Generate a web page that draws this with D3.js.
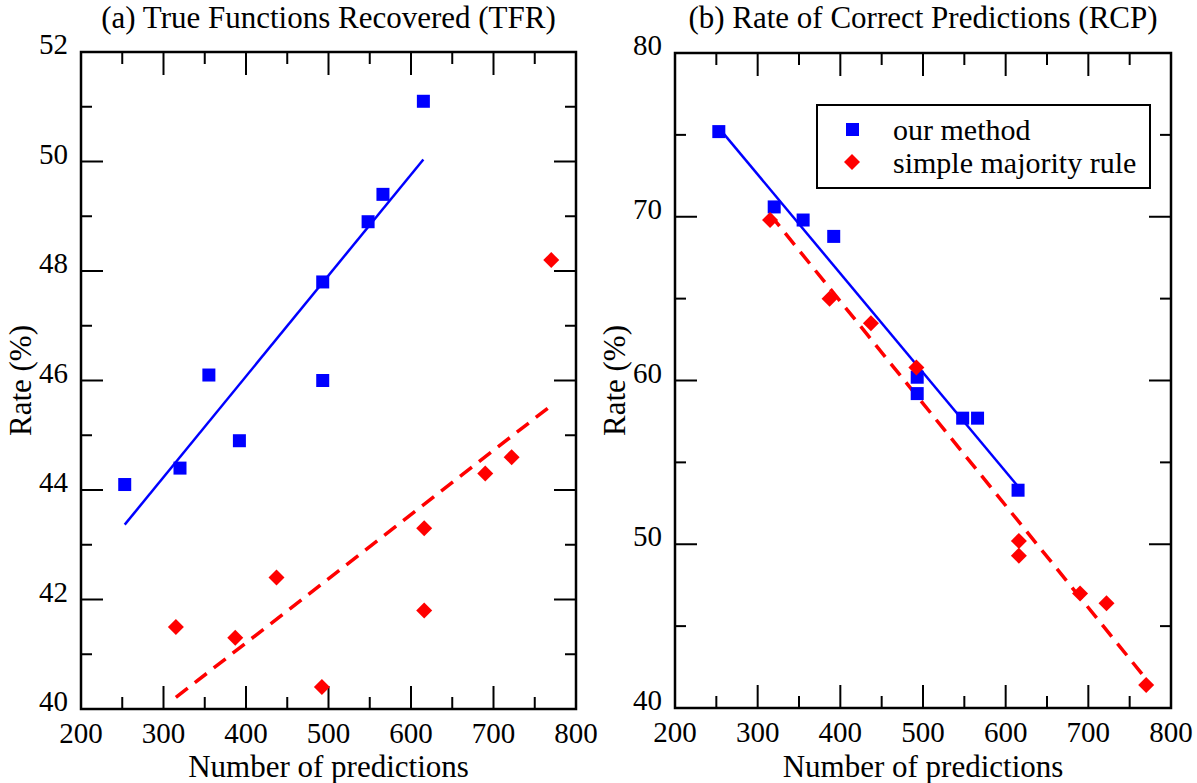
<!DOCTYPE html>
<html>
<head>
<meta charset="utf-8">
<script src="https://cdn.jsdelivr.net/npm/d3@7"></script>
<style>
  body { margin: 0; background: #fff; }
  svg { display: block; font-family: "Liberation Serif", "Times New Roman", serif; }
</style>
</head>
<body>
<svg id="chart" width="1197" height="783"></svg>
<script>
// x values (number of predictions), shared by both panels
var oursX = [253, 320, 355, 392, 493, 493, 548, 566, 615]
var majX = [315, 387, 437, 492, 616, 616, 690, 722, 770]

// (a) TFR
var tfrOurs = [44.1, 44.4, 46.1, 44.9, 47.8, 46.0, 48.9, 49.4, 51.1]
var tfrMaj = [41.5, 41.3, 42.4, 40.4, 43.3, 41.8, 44.3, 44.6, 48.2]

// (b) RCP
var rcpOurs = [75.2, 70.6, 69.8, 68.8, 60.2, 59.2, 57.7, 57.7, 53.3]
var rcpMaj = [69.8, 65.0, 63.5, 60.8, 50.2, 49.3, 47.0, 46.4, 41.4]

var xTicks = [200, 300, 400, 500, 600, 700, 800]
var tfrTicks = [40, 42, 44, 46, 48, 50, 52]
var rcpTicks = [40, 50, 60, 70, 80]

var seriesNames = ['our method', 'simple majority rule']

const svg = d3.select('#chart')

// least squares line
function fit(xs, ys) {
  var mx = d3.mean(xs), my = d3.mean(ys)
  var sxy = d3.sum(xs, (x, i) => (x - mx) * (ys[i] - my))
  var sxx = d3.sum(xs, x => (x - mx) * (x - mx))
  var b = sxy / sxx
  var a = my - b * mx
  var ext = d3.extent(xs)
  return ext.map(x => [x, a + b * x])
}

function panel(opt) {
  var x = d3.scaleLinear().domain([200, 800]).range([opt.left, opt.right])
  var y = d3.scaleLinear().domain(opt.yDomain).range([opt.bottom, opt.top])
  var g = svg.append('g')
  var font = 31, tickFont = 29

  // minor / major ticks on all four sides
  var xMinor = d3.range(250, 800, 100)
  var yMinor = opt.yMinor
  var tk = g.append('g').attr('stroke', '#000').attr('stroke-width', 2)
  xTicks.slice(1, -1).forEach(v => {
    tk.append('line').attr('x1', x(v)).attr('x2', x(v)).attr('y1', opt.bottom).attr('y2', opt.bottom - 23)
    tk.append('line').attr('x1', x(v)).attr('x2', x(v)).attr('y1', opt.top).attr('y2', opt.top + 23)
  })
  xMinor.forEach(v => {
    tk.append('line').attr('x1', x(v)).attr('x2', x(v)).attr('y1', opt.bottom).attr('y2', opt.bottom - 12)
    tk.append('line').attr('x1', x(v)).attr('x2', x(v)).attr('y1', opt.top).attr('y2', opt.top + 12)
  })
  opt.yTicks.slice(1, -1).forEach(v => {
    tk.append('line').attr('y1', y(v)).attr('y2', y(v)).attr('x1', opt.left).attr('x2', opt.left + 22)
    tk.append('line').attr('y1', y(v)).attr('y2', y(v)).attr('x1', opt.right).attr('x2', opt.right - 22)
  })
  yMinor.forEach(v => {
    tk.append('line').attr('y1', y(v)).attr('y2', y(v)).attr('x1', opt.left).attr('x2', opt.left + 11)
    tk.append('line').attr('y1', y(v)).attr('y2', y(v)).attr('x1', opt.right).attr('x2', opt.right - 11)
  })

  g.append('rect')
    .attr('x', opt.left).attr('y', opt.top)
    .attr('width', opt.right - opt.left).attr('height', opt.bottom - opt.top)
    .attr('fill', 'none').attr('stroke', '#000').attr('stroke-width', 2.5)

  // tick labels
  g.append('g').selectAll('text').data(xTicks).join('text')
    .attr('x', d => x(d)).attr('y', opt.bottom + 34)
    .attr('text-anchor', 'middle').attr('font-size', tickFont)
    .text(d => d)
  g.append('g').selectAll('text').data(opt.yTicks).join('text')
    .attr('x', opt.left - 13).attr('y', d => y(d) + 2)
    .attr('text-anchor', 'end').attr('font-size', tickFont)
    .text(d => d)

  // axis titles
  g.append('text')
    .attr('x', (opt.left + opt.right) / 2).attr('y', 777)
    .attr('text-anchor', 'middle').attr('font-size', font)
    .text('Number of predictions')
  g.append('text')
    .attr('transform', `translate(${opt.left - 50},${(opt.top + opt.bottom) / 2}) rotate(-90)`)
    .attr('text-anchor', 'middle').attr('font-size', font)
    .text('Rate (%)')
  g.append('text')
    .attr('x', (opt.left + opt.right) / 2).attr('y', 28)
    .attr('text-anchor', 'middle').attr('font-size', font)
    .text(opt.title)

  var line = d3.line().x(d => x(d[0])).y(d => y(d[1]))
  g.append('path').datum(fit(oursX, opt.ours)).attr('d', line)
    .attr('fill', 'none').attr('stroke', '#0000ff').attr('stroke-width', 2.5)
  g.append('path').datum(fit(majX, opt.maj)).attr('d', line)
    .attr('fill', 'none').attr('stroke', '#ff0000').attr('stroke-width', 3.5)
    .attr('stroke-dasharray', '15,9')

  g.append('g').selectAll('rect').data(oursX.map((v, i) => [v, opt.ours[i]])).join('rect')
    .attr('x', d => x(d[0]) - 6.5).attr('y', d => y(d[1]) - 6.5)
    .attr('width', 13).attr('height', 13).attr('fill', '#0000ff')
  g.append('g').selectAll('path').data(majX.map((v, i) => [v, opt.maj[i]])).join('path')
    .attr('transform', d => `translate(${x(d[0])},${y(d[1])})`)
    .attr('d', 'M0,-8L8,0L0,8L-8,0Z').attr('fill', '#ff0000')
  return g
}

panel({
  left: 81, right: 576, top: 52, bottom: 709,
  yDomain: [40, 52], yTicks: tfrTicks, yMinor: d3.range(41, 52, 2),
  ours: tfrOurs, maj: tfrMaj, title: '(a) True Functions Recovered (TFR)'
})

panel({
  left: 675, right: 1171, top: 53, bottom: 708,
  yDomain: [40, 80], yTicks: rcpTicks, yMinor: d3.range(45, 80, 10),
  ours: rcpOurs, maj: rcpMaj, title: '(b) Rate of Correct Predictions (RCP)'
})

// legend in panel (b)
var lg = svg.append('g')
lg.append('rect').attr('x', 817).attr('y', 105).attr('width', 333).attr('height', 83)
  .attr('fill', '#fff').attr('stroke', '#000').attr('stroke-width', 2)
lg.append('rect').attr('x', 846).attr('y', 123).attr('width', 13).attr('height', 13).attr('fill', '#0000ff')
lg.append('path').attr('transform', 'translate(852,162)').attr('d', 'M0,-8L8,0L0,8L-8,0Z').attr('fill', '#ff0000')
lg.selectAll('text').data(seriesNames).join('text')
  .attr('x', 893).attr('y', (d, i) => 140 + i * 33)
  .attr('font-size', 30)
  .text(d => d)
</script>
</body>
</html>
